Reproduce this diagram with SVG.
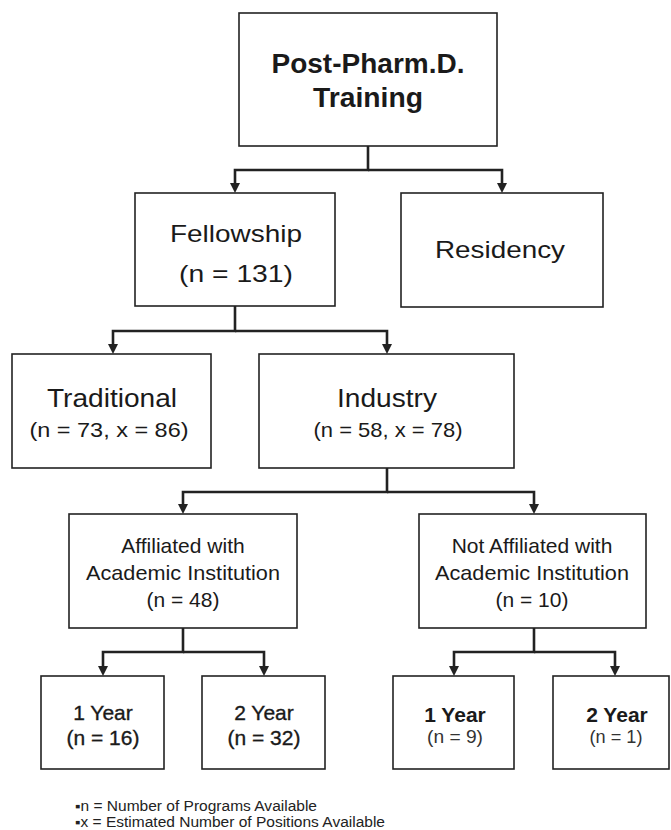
<svg xmlns="http://www.w3.org/2000/svg" width="671" height="830" viewBox="0 0 671 830">
<style>
  .box { fill: #ffffff; stroke: #222; stroke-width: 1.6; }
  .t { font-family: "Liberation Sans", Arial, sans-serif; fill: #1a1a1a; text-anchor: middle; }
  .b { font-weight: bold; }
  .med { stroke: #1a1a1a; stroke-width: 0.35; }
  .light { fill: #333; }
  .conn { fill: none; stroke: #222; stroke-width: 2.6; }
  .note { font-family: "Liberation Sans", Arial, sans-serif; fill: #222; font-size: 14px; }
</style>
<defs>
  <marker id="ah" markerUnits="userSpaceOnUse" markerWidth="10" markerHeight="10" refX="0" refY="5" orient="auto" viewBox="0 0 10 10">
    <path d="M0,0 L10,5 L0,10 Z" fill="#222"/>
  </marker>
</defs>
<rect width="671" height="830" fill="#ffffff"/>

<g id="connectors">
  <path class="conn" d="M368,146 V170 H235 V183" marker-end="url(#ah)"/>
  <path class="conn" d="M368,170 H502 V183" marker-end="url(#ah)"/>

  <path class="conn" d="M235,306 V331 H113 V344" marker-end="url(#ah)"/>
  <path class="conn" d="M235,331 H387 V344" marker-end="url(#ah)"/>

  <path class="conn" d="M387,468 V492 H183 V504" marker-end="url(#ah)"/>
  <path class="conn" d="M387,492 H534 V504" marker-end="url(#ah)"/>

  <path class="conn" d="M183,628 V652 H103 V666" marker-end="url(#ah)"/>
  <path class="conn" d="M183,652 H264 V666" marker-end="url(#ah)"/>

  <path class="conn" d="M534,628 V652 H454 V666" marker-end="url(#ah)"/>
  <path class="conn" d="M534,652 H615 V666" marker-end="url(#ah)"/>
</g>

<g id="post-pharmd">
  <rect class="box" x="239" y="13" width="258" height="133"/>
  <text class="t b" x="368" y="73" font-size="27" textLength="193" lengthAdjust="spacingAndGlyphs">Post-Pharm.D.</text>
  <text class="t b" x="368" y="107" font-size="27" textLength="110" lengthAdjust="spacingAndGlyphs">Training</text>
</g>

<g id="fellowship">
  <rect class="box" x="135" y="193" width="200" height="113"/>
  <text class="t" x="236" y="242" font-size="24" textLength="132" lengthAdjust="spacingAndGlyphs">Fellowship</text>
  <text class="t" x="236" y="282" font-size="24" textLength="114" lengthAdjust="spacingAndGlyphs">(n = 131)</text>
</g>

<g id="residency">
  <rect class="box" x="401" y="193" width="202" height="114"/>
  <text class="t" x="500" y="258" font-size="24" textLength="130" lengthAdjust="spacingAndGlyphs">Residency</text>
</g>

<g id="traditional">
  <rect class="box" x="12" y="354" width="199" height="114"/>
  <text class="t" x="112" y="407" font-size="25" textLength="130" lengthAdjust="spacingAndGlyphs">Traditional</text>
  <text class="t" x="109" y="437" font-size="21" textLength="159" lengthAdjust="spacingAndGlyphs">(n = 73, x = 86)</text>
</g>

<g id="industry">
  <rect class="box" x="259" y="354" width="255" height="114"/>
  <text class="t" x="387" y="407" font-size="25" textLength="100" lengthAdjust="spacingAndGlyphs">Industry</text>
  <text class="t" x="388" y="437" font-size="21" textLength="149" lengthAdjust="spacingAndGlyphs">(n = 58, x = 78)</text>
</g>

<g id="affiliated">
  <rect class="box" x="69" y="514" width="228" height="114"/>
  <text class="t" x="183" y="553" font-size="21">Affiliated with</text>
  <text class="t" x="183" y="580" font-size="21" textLength="194" lengthAdjust="spacingAndGlyphs">Academic Institution</text>
  <text class="t" x="183" y="607" font-size="21">(n = 48)</text>
</g>

<g id="not-affiliated">
  <rect class="box" x="419" y="514" width="227" height="114"/>
  <text class="t" x="532" y="553" font-size="21">Not Affiliated with</text>
  <text class="t" x="532" y="580" font-size="21" textLength="194" lengthAdjust="spacingAndGlyphs">Academic Institution</text>
  <text class="t" x="532" y="607" font-size="21">(n = 10)</text>
</g>

<g id="aff-1year">
  <rect class="box" x="41" y="676" width="123" height="93"/>
  <text class="t med" x="103" y="720" font-size="21">1 Year</text>
  <text class="t med" x="103" y="745" font-size="21">(n = 16)</text>
</g>

<g id="aff-2year">
  <rect class="box" x="202" y="676" width="123" height="93"/>
  <text class="t med" x="264" y="720" font-size="21">2 Year</text>
  <text class="t med" x="264" y="745" font-size="21">(n = 32)</text>
</g>

<g id="notaff-1year">
  <rect class="box" x="393" y="676" width="121" height="93"/>
  <text class="t b" x="455" y="722" font-size="21">1 Year</text>
  <text class="t light" x="455" y="743" font-size="18" textLength="56" lengthAdjust="spacingAndGlyphs">(n = 9)</text>
</g>

<g id="notaff-2year">
  <rect class="box" x="553" y="676" width="116" height="93"/>
  <text class="t b" x="617" y="722" font-size="21">2 Year</text>
  <text class="t light" x="616" y="743" font-size="18" textLength="53" lengthAdjust="spacingAndGlyphs">(n = 1)</text>
</g>

<g id="legend">
  <text class="note" x="75" y="811" textLength="242" lengthAdjust="spacingAndGlyphs">▪n = Number of Programs Available</text>
  <text class="note" x="75" y="827" textLength="310" lengthAdjust="spacingAndGlyphs">▪x = Estimated Number of Positions Available</text>
</g>
</svg>
